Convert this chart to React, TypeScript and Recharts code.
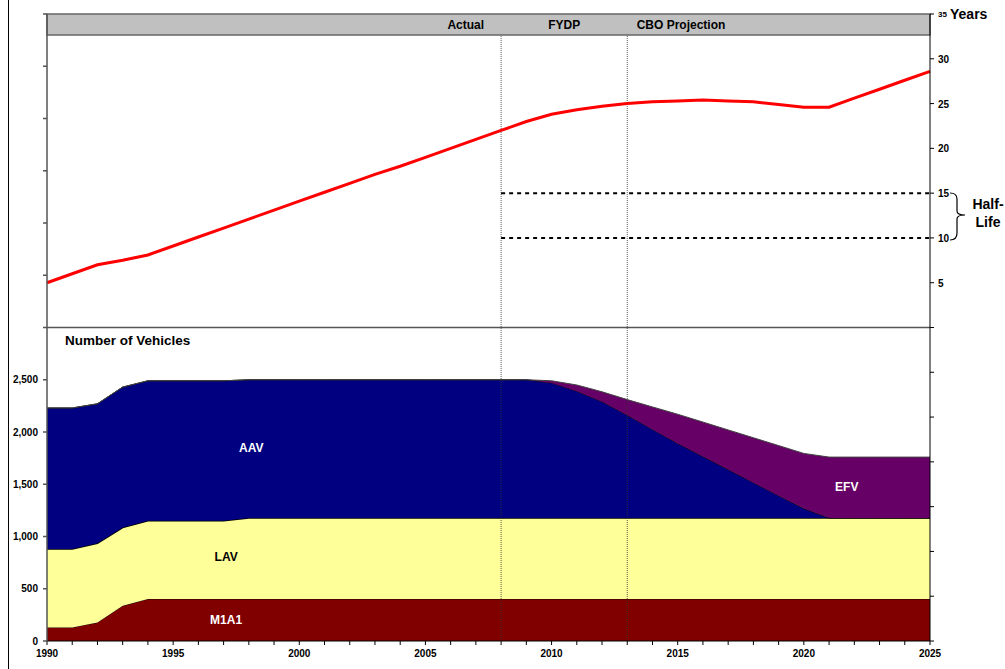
import React from 'react';
import {
  ComposedChart, Area, Line, XAxis, YAxis, ReferenceLine, ReferenceArea, ReferenceDot,
} from 'recharts';

const years = [
  1990, 1991, 1992, 1993, 1994, 1995, 1996, 1997, 1998, 1999, 2000, 2001,
  2002, 2003, 2004, 2005, 2006, 2007, 2008, 2009, 2010, 2011, 2012, 2013,
  2014, 2015, 2016, 2017, 2018, 2019, 2020, 2021, 2022, 2023, 2024, 2025,
];

// vehicle counts (stacked)
const m1a1 = [
  130, 130, 178, 338, 403, 403, 403, 403, 403, 403, 403, 403,
  403, 403, 403, 403, 403, 403, 403, 403, 403, 403, 403, 403,
  403, 403, 403, 403, 403, 403, 403, 403, 403, 403, 403, 403,
];
const lav = [
  750, 750, 757, 748, 748, 748, 748, 748, 774, 774, 774, 774,
  774, 774, 774, 774, 774, 774, 774, 774, 774, 774, 774, 774,
  774, 774, 774, 774, 774, 774, 774, 774, 774, 774, 774, 774,
];
const aav = [
  1350, 1350, 1335, 1344, 1339, 1339, 1339, 1339, 1323, 1323, 1323, 1323,
  1323, 1323, 1323, 1323, 1323, 1323, 1323, 1323, 1293, 1213, 1113, 983,
  848, 713, 588, 463, 338, 213, 90, 0, 0, 0, 0, 0,
];
const efv = [
  0, 0, 0, 0, 0, 0, 0, 0, 0, 0, 0, 0,
  0, 0, 0, 0, 0, 0, 0, 0, 20, 60, 95, 150,
  215, 280, 330, 380, 430, 480, 528, 583, 583, 583, 583, 583,
];
// average fleet age, years
const age = [
  5.0, 6.0, 7.0, 7.5, 8.1, 9.1, 10.1, 11.1, 12.1, 13.1, 14.1, 15.1,
  16.1, 17.1, 18.0, 19.0, 20.0, 21.0, 22.0, 23.0, 23.8, 24.3, 24.7, 25.0,
  25.2, 25.3, 25.4, 25.3, 25.2, 24.9, 24.6, 24.6, 25.6, 26.6, 27.6, 28.6,
];

const leftTicks = [0, 500, 1000, 1500, 2000, 2500, 3000, 3500, 4000, 4500, 5000, 5500, 6000];
const rightTicks = [-35, -30, -25, -20, -15, -10, -5, 0, 5, 10, 15, 20, 25, 30, 35];
const halfLife = [10, 15];

const data = years.map((year, i) => ({
  year, m1a1: m1a1[i], lav: lav[i], aav: aav[i], efv: efv[i], age: age[i],
}));

const narrow = "'Liberation Sans Narrow', 'Liberation Sans', Arial, sans-serif";

const RightTick = (props: any) => {
  const { x, y, payload } = props;
  const v = payload.value;
  if (v <= 0) return null;
  if (v === 35) {
    return (
      <g>
        <text x={x} y={y + 3} fontSize={8} fontWeight="bold" fill="#000" fontFamily={narrow}>35</text>
        <text x={x + 12} y={y + 5} fontSize={14} fontWeight="bold" fill="#000">Years</text>
      </g>
    );
  }
  return (
    <text x={x} y={y + 4} fontSize={10} fontWeight="bold" fill="#000" fontFamily={narrow}>{v}</text>
  );
};

const lbl = (value: string, fill: string, size = 12) => ({
  value, position: 'center' as const, fill, fontSize: size, fontWeight: 'bold',
});

export default function App() {
  return (
    <div style={{ position: 'absolute', left: 0, top: 0, width: 1005, height: 669, background: '#fff', fontFamily: "'Liberation Sans', Arial, sans-serif" }}>
      <div style={{ position: 'absolute', left: 8, top: 0, width: 1, height: 669, background: '#000' }} />
      <ComposedChart width={1005} height={669} data={data} margin={{ top: 14, right: 0, bottom: 0, left: 0 }}>
        <XAxis
          dataKey="year" type="number" domain={[1990, 2025]} ticks={years} interval={0}
          tickFormatter={(v: number) => (v % 5 === 0 ? String(v) : '')}
          height={28} tickSize={4} tickMargin={5} stroke="#000"
          tick={{ fontSize: 10, fontWeight: 'bold', fill: '#000', fontFamily: narrow }}
        />
        <YAxis
          yAxisId="left" orientation="left" type="number" domain={[0, 6000]} ticks={leftTicks} interval={0}
          tickFormatter={(v: number) => (v <= 2500 ? v.toLocaleString('en-US') : '')}
          width={47} tickSize={4} tickMargin={5} stroke="#555" strokeWidth={1.5}
          tick={{ fontSize: 10, fontWeight: 'bold', fill: '#000', fontFamily: narrow }}
        />
        <YAxis
          yAxisId="right" orientation="right" type="number" domain={[-35, 35]} ticks={rightTicks} interval={0}
          width={75} tickSize={4} tickMargin={4} stroke="#000" tick={<RightTick />}
        />

        <ReferenceArea yAxisId="left" x1={1990} x2={2025} y1={0} y2={3000} fill="#fff" fillOpacity={1} />
        <Area yAxisId="left" type="linear" dataKey="m1a1" stackId="v" fill="#800000" fillOpacity={1} stroke="#000" strokeWidth={1} isAnimationActive={false} />
        <Area yAxisId="left" type="linear" dataKey="lav" stackId="v" fill="#FFFF99" fillOpacity={1} stroke="#000" strokeWidth={1.5} isAnimationActive={false} />
        <Area yAxisId="left" type="linear" dataKey="aav" stackId="v" fill="#000080" fillOpacity={1} stroke="#000" strokeWidth={1} isAnimationActive={false} />
        <Area yAxisId="left" type="linear" dataKey="efv" stackId="v" fill="#660066" fillOpacity={1} stroke="#444" strokeWidth={1} isAnimationActive={false} />

        <ReferenceLine yAxisId="left" y={3000} stroke="#555" strokeWidth={1.5} />
        <ReferenceArea yAxisId="left" x1={1990} x2={2025} y1={5800} y2={6000} fill="#C0C0C0" fillOpacity={1} stroke="#666" strokeWidth={1.5} />
        <ReferenceLine yAxisId="left" segment={[{ x: 2008, y: 0 }, { x: 2008, y: 5800 }]} stroke="#333" strokeWidth={0.8} strokeDasharray="1 1" />
        <ReferenceLine yAxisId="left" segment={[{ x: 2013, y: 0 }, { x: 2013, y: 5800 }]} stroke="#333" strokeWidth={0.8} strokeDasharray="1 1" />

        {halfLife.map((h) => (
          <ReferenceLine key={h} yAxisId="right" segment={[{ x: 2008, y: h }, { x: 2025, y: h }]} stroke="#000" strokeWidth={2} strokeDasharray="4 4" />
        ))}

        <Line yAxisId="right" type="linear" dataKey="age" stroke="#FF0000" strokeWidth={3} dot={false} isAnimationActive={false} />

        <ReferenceDot yAxisId="left" x={2006.6} y={5900} r={0} fill="none" stroke="none" label={lbl('Actual', '#000')} />
        <ReferenceDot yAxisId="left" x={2010.5} y={5900} r={0} fill="none" stroke="none" label={lbl('FYDP', '#000')} />
        <ReferenceDot yAxisId="left" x={2015.13} y={5900} r={0} fill="none" stroke="none" label={lbl('CBO Projection', '#000')} />
        <ReferenceDot yAxisId="left" x={1993.2} y={2880} r={0} fill="none" stroke="none" label={lbl('Number of Vehicles', '#000', 13.5)} />
        <ReferenceDot yAxisId="left" x={1998.1} y={1850} r={0} fill="none" stroke="none" label={lbl('AAV', '#fff')} />
        <ReferenceDot yAxisId="left" x={1997.1} y={810} r={0} fill="none" stroke="none" label={lbl('LAV', '#000')} />
        <ReferenceDot yAxisId="left" x={1997.1} y={200} r={0} fill="none" stroke="none" label={lbl('M1A1', '#fff')} />
        <ReferenceDot yAxisId="left" x={2021.7} y={1480} r={0} fill="none" stroke="none" label={lbl('EFV', '#fff')} />
      </ComposedChart>
      <svg style={{ position: 'absolute', left: 0, top: 0 }} width={1005} height={669}>
        <path d="M950,193 Q957,193 957,199 L957,211 Q957,215 965,215 Q957,215 957,219 L957,233 Q957,240 950,240" fill="none" stroke="#000" strokeWidth={1.2} />
        <text x={988} y={209} textAnchor="middle" fontSize={14} fontWeight="bold" fill="#000">Half-</text>
        <text x={988} y={227} textAnchor="middle" fontSize={14} fontWeight="bold" fill="#000">Life</text>
      </svg>
    </div>
  );
}
